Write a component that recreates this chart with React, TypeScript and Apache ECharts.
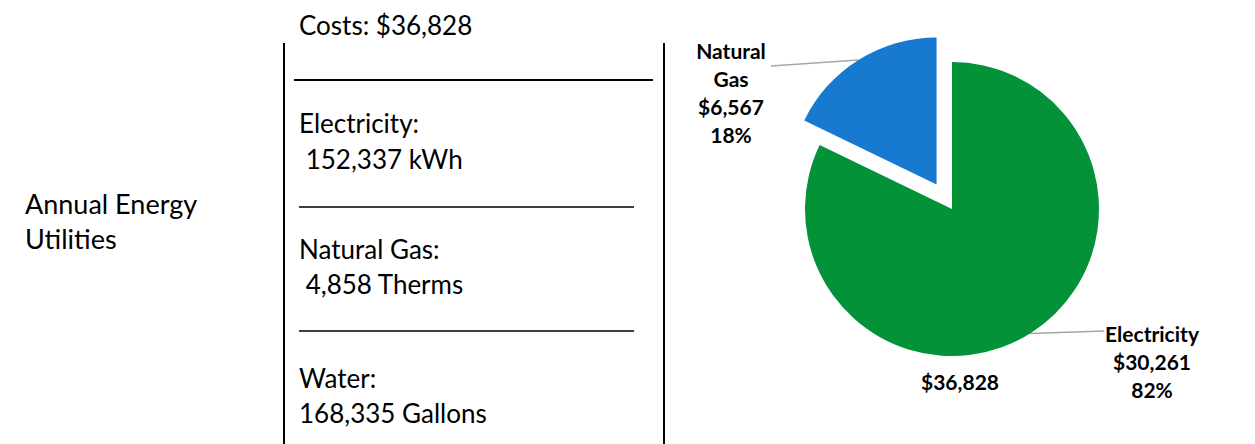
import React, { useEffect, useRef } from "react";
import * as echarts from "echarts";

const categories = ["Electricity", "Natural Gas"];
const costs = [30261, 6567];
const sliceColors = ["#039237", "#1779D0"];
const explodedCategory = "Natural Gas";
const totalLabel = "$36,828";
const leftTitle = ["Annual Energy", "Utilities"];
const infoLines = [
  "Costs: $36,828",
  "Electricity:",
  " 152,337 kWh",
  "Natural Gas:",
  " 4,858 Therms",
  "Water:",
  "168,335 Gallons",
];

const FONT = "Lato, 'Open Sans', sans-serif";

export default function App() {
  const ref = useRef<HTMLDivElement>(null);
  useEffect(() => {
    document.body.style.margin = "0";
    const chart = echarts.init(ref.current!, null, { renderer: "svg" });
    const infoY = [25, 123, 159, 249, 284, 378, 413];
    const labelPos: Record<string, [number, number]> = {
      "Natural Gas": [731, 92],
      Electricity: [1152, 361],
    };
    const labelLineEnd: Record<string, [number, number]> = {
      "Natural Gas": [771, 66],
      Electricity: [1104, 331],
    };
    const graphic: any[] = [];
    leftTitle.forEach((t, i) =>
      graphic.push({
        type: "text",
        x: 25,
        y: 203 + i * 35,
        style: { text: t, fontSize: 27, fontFamily: FONT, fill: "#000", align: "left", verticalAlign: "middle" },
      })
    );
    infoLines.forEach((t, i) =>
      graphic.push({
        type: "text",
        x: 299,
        y: infoY[i],
        style: { text: t, fontSize: 26, fontFamily: FONT, fill: "#000", align: "left", verticalAlign: "middle" },
      })
    );
    const lines = [
      [284, 43, 284, 444],
      [664, 43, 664, 444],
      [294, 80, 653, 80],
      [299, 207, 634, 207],
      [299, 331, 634, 331],
    ];
    lines.forEach(([x1, y1, x2, y2], i) =>
      graphic.push({
        type: "line",
        shape: { x1, y1, x2, y2 },
        style: { stroke: "#000", lineWidth: i < 3 ? 2 : 1.5 },
      })
    );

    const center: [number, number] = [952, 209];
    const radius = 147;
    const explode = 29;
    const total = costs.reduce((a, b) => a + b, 0);
    let acc = 0;
    let midFrac = 0;
    categories.forEach((c, i) => {
      if (c === explodedCategory) midFrac = (acc + costs[i] / 2) / total;
      acc += costs[i];
    });
    const a = midFrac * 2 * Math.PI;
    const explodedCenter: [number, number] = [
      center[0] + Math.sin(a) * explode,
      center[1] - Math.cos(a) * explode,
    ];

    const makeSeries = (visible: (c: string) => boolean, c0: [number, number]) => ({
      type: "pie",
      center: c0,
      radius: [0, radius],
      startAngle: 90,
      clockwise: true,
      avoidLabelOverlap: false,
      silent: true,
      label: {
        show: true,
        position: "outside",
        fontFamily: FONT,
        fontSize: 21,
        fontWeight: "bold",
        color: "#000",
        lineHeight: 28,
        align: "center",
        formatter: (p: any) => {
          const name = p.name === "Natural Gas" ? "Natural\nGas" : p.name;
          return `${name}\n$${p.value.toLocaleString("en-US")}\n${Math.round(p.percent)}%`;
        },
      },
      labelLine: { show: true, length: 1, length2: 1, lineStyle: { color: "#A6A6A6", width: 1.5 } },
      labelLayout: (params: any) => {
        const name = categories[params.dataIndex];
        const [x, y] = labelPos[name];
        const out: any = { x, y, align: "center", verticalAlign: "middle" };
        if (params.labelLinePoints && params.labelLinePoints.length) {
          out.labelLinePoints = [params.labelLinePoints[0], labelLineEnd[name]];
        }
        return out;
      },
      emphasis: { disabled: true },
      data: categories.map((c, i) => ({
        name: c,
        value: costs[i],
        itemStyle: { color: visible(c) ? sliceColors[i] : "rgba(0,0,0,0)" },
        label: { show: visible(c) },
        labelLine: { show: visible(c) },
      })),
    });

    chart.setOption({
      animation: false,
      title: {
        text: totalLabel,
        left: 960,
        top: 381,
        textAlign: "center",
        textVerticalAlign: "middle",
        padding: 0,
        textStyle: { fontSize: 21, fontWeight: "bold", fontFamily: FONT, color: "#000" },
      },
      graphic,
      series: [
        makeSeries((c) => c !== explodedCategory, center),
        makeSeries((c) => c === explodedCategory, explodedCenter),
      ],
    });
    return () => chart.dispose();
  }, []);
  return <div ref={ref} style={{ width: 1255, height: 444 }} />;
}
